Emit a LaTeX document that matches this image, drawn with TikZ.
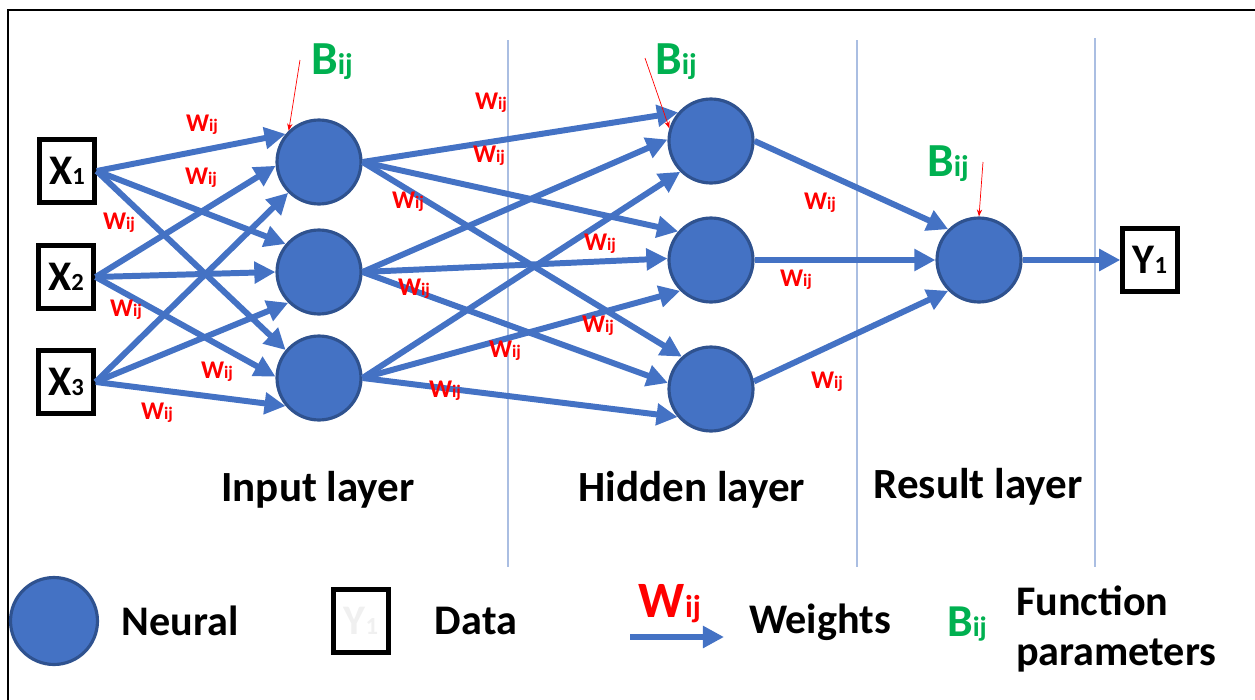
\documentclass[tikz,border=0pt]{standalone}
\usepackage{fontspec}
\setmainfont{Carlito}
\usetikzlibrary{arrows.meta}

\definecolor{nblue}{RGB}{68,114,196}
\definecolor{nborder}{RGB}{47,82,143}
\definecolor{sepblue}{RGB}{170,190,226}
\definecolor{bgreen}{RGB}{0,176,80}

\newcommand{\idx}[2]{{\fontsize{#1}{#1}\selectfont #2}}
\newcommand{\wij}{W\idx{10}{ij}}
\newcommand{\bij}{B\idx{17}{ij}}

\tikzset{
    neuron/.style={circle, fill=nblue, draw=nborder, line width=1.8pt, minimum size=1.68cm, inner sep=0pt},
    datum/.style={draw, line width=2.5pt, minimum width=1.1cm, minimum height=1.26cm, inner sep=0pt,
        font=\bfseries\fontsize{24}{26}\selectfont},
    link/.style={nblue, line width=3.4pt, -{Triangle[length=12pt,width=12pt]}},
    bias/.style={red, line width=0.4pt, -{Stealth[length=4pt,width=3pt]}},
    wlab/.style={text=red, font=\bfseries\fontsize{14.5}{16}\selectfont},
    blab/.style={text=bgreen, font=\bfseries\fontsize{27}{30}\selectfont},
    layer/.style={font=\bfseries\fontsize{24.5}{28}\selectfont},
    legend/.style={font=\bfseries\fontsize{24}{28}\selectfont},
    sep/.style={draw=sepblue, line width=0.8pt}
}

\begin{document}
\begin{tikzpicture}[x=0.02cm, y=-0.02cm]
\useasboundingbox (0,0) rectangle (1255,700);
% frame
\draw[line width=1.5pt] (8,700) -- (8,10) -- (1255,10);
% layer separators
\draw[sep] (508,40) -- (508,567);
\draw[sep] (857,40) -- (857,567);
\draw[sep] (1095,38) -- (1095,567);

% data
\node[datum] (x1) at (67,171) {X\idx{14}{1}};
\node[datum] (x2) at (66,277) {X\idx{14}{2}};
\node[datum] (x3) at (66,382) {X\idx{14}{3}};
\node[datum] (y1) at (1150,260) {Y\idx{14}{1}};

% neurons
\node[neuron] (i1) at (319,162) {};
\node[neuron] (i2) at (319,272) {};
\node[neuron] (i3) at (319,378) {};
\node[neuron] (h1) at (711,141) {};
\node[neuron] (h2) at (711,260) {};
\node[neuron] (h3) at (711,389) {};
\node[neuron] (r1) at (979,260) {};

% weights into the input layer
\draw[link] (x1.east) -- (i1.140);
\draw[link] (x1.east) -- (i2.140);
\draw[link] (x1.east) -- (i3.140);
\draw[link] (x2.east) -- (i1.185);
\draw[link] (x2.east) -- (i2.180);
\draw[link] (x2.east) -- (i3.178);
\draw[link] (x3.east) -- (i1.225);
\draw[link] (x3.east) -- (i2.225);
\draw[link] (x3.east) -- (i3.220);

% weights into the hidden layer
\draw[link] (i1.east) -- (h1.139);
\draw[link] (i1.east) -- (h2.139);
\draw[link] (i1.east) -- (h3.132);
\draw[link] (i2.east) -- (h1.178);
\draw[link] (i2.east) -- (h2.178);
\draw[link] (i2.east) -- (h3.172);
\draw[link] (i3.east) -- (h1.225);
\draw[link] (i3.east) -- (h2.225);
\draw[link] (i3.east) -- (h3.220);

% weights into the result layer
\draw[link] (h1.east) -- (r1.135);
\draw[link] (h2.east) -- (r1.west);
\draw[link] (h3.10) -- (r1.225);
\draw[link] (r1.east) -- (y1.west);

% weight labels
\node[wlab] (w1) at (202,125) {\wij};
\node[wlab] (w2) at (201,178) {\wij};
\node[wlab] (w3) at (119,223) {\wij};
\node[wlab] (w4) at (126,310) {\wij};
\node[wlab] (w5) at (217,372) {\wij};
\node[wlab] (w6) at (157,413) {\wij};
\node[wlab] (w7) at (491,103) {\wij};
\node[wlab] (w8) at (489,156) {\wij};
\node[wlab] (w9) at (408,202) {\wij};
\node[wlab] (w10) at (414,289) {\wij};
\node[wlab] (w11) at (600,244) {\wij};
\node[wlab] (w12) at (598,326) {\wij};
\node[wlab] (w13) at (505,351) {\wij};
\node[wlab] (w14) at (445,391) {\wij};
\node[wlab] (w15) at (820,203) {\wij};
\node[wlab] (w16) at (796,280) {\wij};
\node[wlab] (w17) at (827,382) {\wij};

% function parameters
\node[blab] (b1) at (332,62) {\bij};
\node[blab] (b2) at (676,62) {\bij};
\node[blab] (b3) at (948,164) {\bij};
\coordinate (b1t) at (300,60);
\coordinate (b2t) at (645,58);
\coordinate (b3t) at (983,162);
\draw[bias] (b1t) -- (i1.134);
\draw[bias] (b2t) -- (h1.163);
\draw[bias] (b3t) -- (r1.north);

% layer names
\node[layer] (lin) at (318,490) {Input layer};
\node[layer] (lhid) at (692,490) {Hidden layer};
\node[layer] (lres) at (978,487) {Result layer};

% legend
\node[neuron, minimum size=1.74cm] (kn) at (54,621) {};
\node[legend] (kntxt) at (180,621) {Neural};
\node[datum, text=gray!12] (kd) at (361,621) {Y\idx{14}{1}};
\node[legend] (kdtxt) at (476,621) {Data};
\coordinate (kwa) at (630,637);
\coordinate (kwb) at (724,637);
\draw[link] (kwa) -- (kwb);
\node[wlab, font=\bfseries\fontsize{29}{32}\selectfont] (kw) at (670,604) {W\idx{18}{ij}};
\node[legend] (kwtxt) at (820,622) {Weights};
\node[blab, font=\bfseries\fontsize{26}{30}\selectfont] (kb) at (967,624) {B\idx{16}{ij}};
\node[legend, align=left, anchor=west] (kbtxt) at (1010,629) {Function\\parameters};
\end{tikzpicture}
\end{document}
